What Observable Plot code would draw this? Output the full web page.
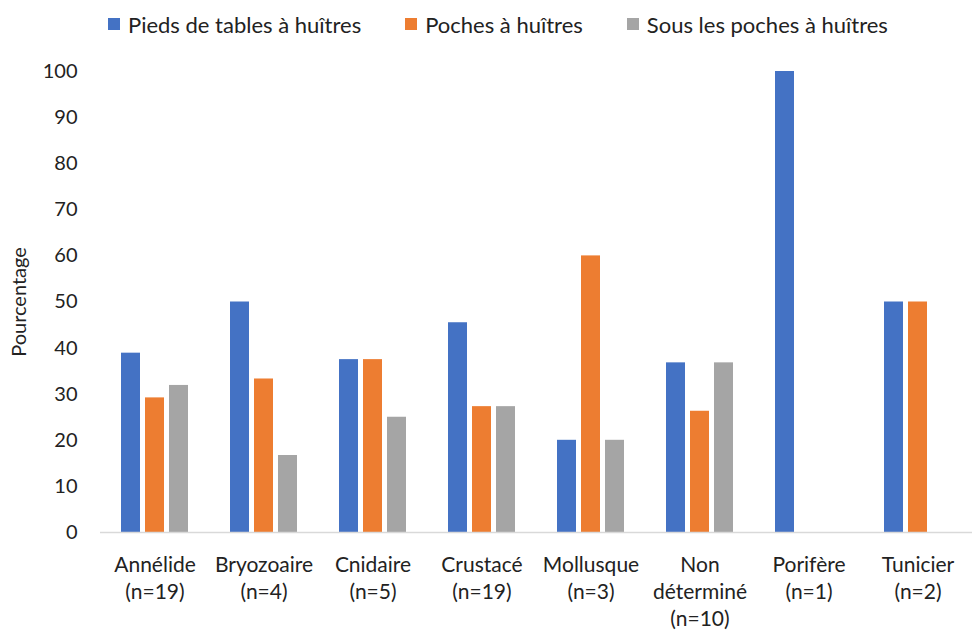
<!DOCTYPE html>
<html>
<head>
<meta charset="utf-8">
<script src="https://cdn.jsdelivr.net/npm/d3@7"></script>
<script src="https://cdn.jsdelivr.net/npm/@observablehq/plot@0.6"></script>
<style>
  body { margin: 0; background: #fff; font-family: Lato, "Open Sans", sans-serif; color: #222; }
  #legend { height: 48px; display: flex; align-items: center; padding-left: 108px; box-sizing: border-box; font-size: 22px; }
  #legend .item { display: flex; align-items: center; margin-right: 44px; }
  #legend .sw { width: 12px; height: 12px; margin-right: 8px; }
  #chart svg { display: block; }
</style>
</head>
<body>
<div id="legend"></div>
<div id="chart"></div>
<script>
// Groupes taxonomiques (libellés de l'axe horizontal)
const categories = [
  "Annélide\n(n=19)",
  "Bryozoaire\n(n=4)",
  "Cnidaire\n(n=5)",
  "Crustacé\n(n=19)",
  "Mollusque\n(n=3)",
  "Non\ndéterminé\n(n=10)",
  "Porifère\n(n=1)",
  "Tunicier\n(n=2)"
];

// Emplacements d'échantillonnage
const series = ["Pieds de tables à huîtres", "Poches à huîtres", "Sous les poches à huîtres"];
const colors = ["#4472C4", "#ED7D31", "#A5A5A5"];

// Pourcentages par groupe, un tableau par emplacement
const pieds = [38.9, 50, 37.5, 45.5, 20, 36.8, 100, 50];
const poches = [29.2, 33.3, 37.5, 27.3, 60, 26.3, 0, 50];
const sous = [31.9, 16.7, 25, 27.3, 20, 36.8, 0, 0];

const yTicks = [0, 10, 20, 30, 40, 50, 60, 70, 80, 90, 100];

const valuesBySeries = [pieds, poches, sous];
const rows = categories.flatMap((cat, i) =>
  series.map((s, j) => ({cat, series: s, value: valuesBySeries[j][i]}))
);

// Légende
const legend = document.getElementById("legend");
series.forEach((s, j) => {
  const item = document.createElement("div");
  item.className = "item";
  const sw = document.createElement("span");
  sw.className = "sw";
  sw.style.background = colors[j];
  const label = document.createElement("span");
  label.textContent = s;
  item.append(sw, label);
  legend.append(item);
});

const chart = Plot.plot({
  width: 974,
  height: 584,
  marginLeft: 100,
  marginRight: 2,
  marginTop: 23,
  marginBottom: 100,
  style: {fontFamily: "Lato, 'Open Sans', sans-serif", fontSize: "20px", color: "#222", background: "#fff"},
  fx: {domain: categories, padding: 0, label: null, axis: null},
  x: {domain: series, paddingInner: 0.19, paddingOuter: 0.81, axis: null},
  y: {domain: [0, 100], label: null},
  color: {domain: series, range: colors},
  marks: [
    Plot.barY(rows, {fx: "cat", x: "series", y: "value", fill: "series"}),
    Plot.ruleY([0], {stroke: "#D9D9D9", strokeWidth: 1.5}),
    Plot.axisY({ticks: yTicks, tickSize: 0, tickPadding: 23, label: "Pourcentage", labelArrow: "none", labelAnchor: "center", labelOffset: 89}),
    Plot.axisFx({anchor: "bottom", tickSize: 0, tickPadding: 20, lineHeight: 1.3, label: null, fontSize: 21})
  ]
});
document.getElementById("chart").append(chart);
</script>
</body>
</html>
